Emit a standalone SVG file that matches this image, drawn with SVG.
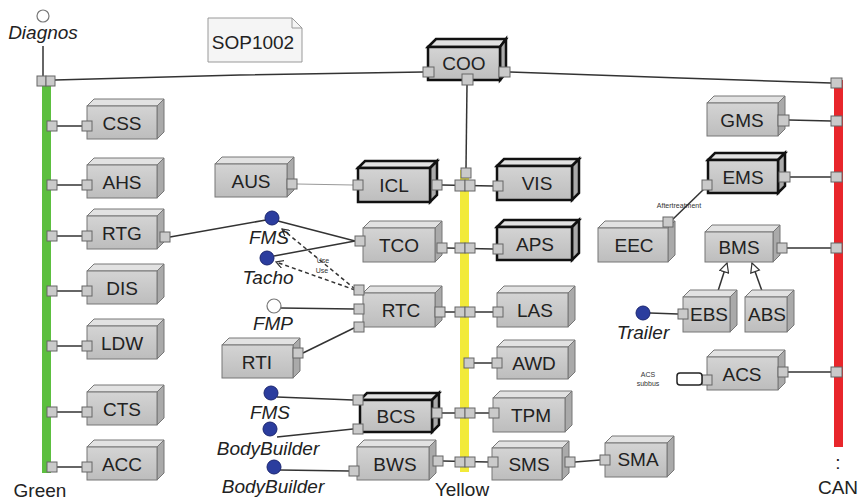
<svg xmlns="http://www.w3.org/2000/svg" width="862" height="501" viewBox="0 0 862 501">
<style>
text{font-family:"Liberation Sans",Arial,sans-serif;fill:#222}
.lbl{font-size:19px;text-anchor:middle}
.it{font-size:19px;font-style:italic;text-anchor:middle}
.tiny{font-size:7px;fill:#333;text-anchor:middle}
.front{fill:url(#gf);stroke:#777;stroke-width:1}
.top{fill:#e2e2e2;stroke:#777;stroke-width:1}
.side{fill:#aaaaaa;stroke:#777;stroke-width:1}
.thick .front,.thick .top,.thick .side{stroke:#111;stroke-width:2.5}
.port{fill:#cacaca;stroke:#666;stroke-width:1}
.ln{stroke:#333;stroke-width:1.5;fill:none}
.lt{stroke:#999;stroke-width:1.2;fill:none}
.dash{stroke:#333;stroke-width:1.5;fill:none;stroke-dasharray:4,3}
.blue{fill:#2b3d9e;stroke:#1a2570;stroke-width:1}
.white{fill:#fff;stroke:#777;stroke-width:1.2}
</style>
<defs>
<linearGradient id="gf" x1="0" y1="0" x2="0" y2="1">
<stop offset="0" stop-color="#d4d4d4"/><stop offset="1" stop-color="#bdbdbd"/>
</linearGradient>
<marker id="open" viewBox="0 0 10 10" refX="9" refY="5" markerWidth="8" markerHeight="8" orient="auto" markerUnits="userSpaceOnUse">
<path d="M0,0 L9,5 L0,10" fill="none" stroke="#333" stroke-width="1.5"/>
</marker>
<marker id="gen" viewBox="0 0 12 12" refX="11" refY="6" markerWidth="11" markerHeight="11" orient="auto" markerUnits="userSpaceOnUse">
<path d="M1,1 L11,6 L1,11 Z" fill="#fff" stroke="#333" stroke-width="1.3"/>
</marker>
</defs>

<!-- buses -->
<g id="buses">
<rect x="42" y="80" width="9" height="393" fill="#5cbf3f"/>
<rect x="460" y="170" width="9" height="302" fill="#f2ea3a"/>
<rect x="834" y="80" width="9" height="367" fill="#e8262b"/>
</g>

<!-- connectors -->
<g id="connectors">
<line class="ln" x1="43" y1="46" x2="43" y2="76"/>
<polyline class="ln" points="55,80 240,75 423,72"/>
<polyline class="ln" points="510,72 680,78 831,83"/>
<line class="ln" x1="467" y1="85" x2="466" y2="168"/>
<!-- green bus -->
<line class="ln" x1="57" y1="126" x2="82" y2="126"/>
<line class="ln" x1="57" y1="185" x2="82" y2="185"/>
<line class="ln" x1="57" y1="236" x2="82" y2="236"/>
<line class="ln" x1="57" y1="291" x2="82" y2="291"/>
<line class="ln" x1="57" y1="346" x2="82" y2="346"/>
<line class="ln" x1="57" y1="412" x2="82" y2="412"/>
<line class="ln" x1="57" y1="467" x2="82" y2="467"/>
<!-- middle -->
<line class="lt" x1="297" y1="184" x2="353" y2="185"/>
<line class="ln" x1="170" y1="237" x2="266" y2="220"/>
<line class="ln" x1="278" y1="221" x2="355" y2="241"/>
<line class="ln" x1="274" y1="256" x2="355" y2="241"/>
<line class="dash" x1="355" y1="289" x2="282" y2="229" marker-end="url(#open)"/>
<line class="dash" x1="355" y1="290" x2="276" y2="262" marker-end="url(#open)"/>
<line class="ln" x1="281" y1="308" x2="354" y2="309"/>
<line class="ln" x1="303" y1="353" x2="354" y2="328"/>
<line class="ln" x1="277" y1="397" x2="353" y2="400"/>
<line class="ln" x1="277" y1="437" x2="353" y2="429"/>
<line class="ln" x1="280" y1="470" x2="349" y2="471"/>
<!-- yellow bus -->
<line class="ln" x1="442" y1="185" x2="493" y2="186"/>
<line class="ln" x1="447" y1="248" x2="493" y2="249"/>
<line class="ln" x1="445" y1="312" x2="493" y2="312"/>
<line class="ln" x1="474" y1="363" x2="492" y2="363"/>
<line class="ln" x1="442" y1="413" x2="489" y2="413"/>
<line class="ln" x1="443" y1="461" x2="488" y2="462"/>
<line class="ln" x1="575" y1="462" x2="600" y2="460"/>
<!-- red bus -->
<line class="ln" x1="789" y1="120" x2="831" y2="121"/>
<line class="ln" x1="790" y1="177" x2="831" y2="177"/>
<line class="ln" x1="787" y1="248" x2="831" y2="248"/>
<line class="ln" x1="788" y1="372" x2="831" y2="372"/>
<!-- right side -->
<line class="ln" x1="704" y1="189" x2="671" y2="221"/>
<line class="ln" x1="718" y1="291" x2="727" y2="263" marker-end="url(#gen)"/>
<line class="ln" x1="762" y1="291" x2="752" y2="263" marker-end="url(#gen)"/>
<line class="ln" x1="650" y1="313" x2="678" y2="314"/>
</g>

<!-- bus ports -->
<g id="busports">
<rect class="port" x="37" y="76" width="9" height="10"/>
<rect class="port" x="46" y="76" width="9" height="10"/>
<rect class="port" x="47" y="121" width="10" height="10"/>
<rect class="port" x="47" y="180" width="10" height="10"/>
<rect class="port" x="47" y="231" width="10" height="10"/>
<rect class="port" x="47" y="286" width="10" height="10"/>
<rect class="port" x="47" y="341" width="10" height="10"/>
<rect class="port" x="47" y="407" width="10" height="10"/>
<rect class="port" x="47" y="462" width="10" height="10"/>
<rect class="port" x="461" y="168" width="10" height="10"/>
<rect class="port" x="455" y="180" width="10" height="11"/>
<rect class="port" x="465" y="180" width="10" height="11"/>
<rect class="port" x="455" y="243" width="10" height="10"/>
<rect class="port" x="465" y="243" width="10" height="10"/>
<rect class="port" x="455" y="307" width="10" height="10"/>
<rect class="port" x="465" y="307" width="10" height="10"/>
<rect class="port" x="464" y="358" width="10" height="10"/>
<rect class="port" x="455" y="408" width="10" height="10"/>
<rect class="port" x="465" y="408" width="10" height="10"/>
<rect class="port" x="455" y="457" width="10" height="10"/>
<rect class="port" x="465" y="457" width="10" height="10"/>
<rect class="port" x="831" y="78" width="11" height="10"/>
<rect class="port" x="831" y="116" width="11" height="10"/>
<rect class="port" x="831" y="172" width="11" height="10"/>
<rect class="port" x="831" y="243" width="11" height="10"/>
<rect class="port" x="831" y="367" width="11" height="10"/>
</g>

<g id="diagnos">
<circle class="white" cx="43" cy="16" r="6"/>
<text class="it" x="43" y="39">Diagnos</text>
</g>

<g id="sop1002">
<path d="M208,18 H292 L302,28 V62 H208 Z" fill="#f5f5f5" stroke="#999" stroke-width="1"/>
<path d="M292,18 V28 H302" fill="none" stroke="#999" stroke-width="1"/>
<text class="lbl" x="253" y="49">SOP1002</text>
</g>

<g id="COO" class="thick">
<polygon class="top" points="428,47 436,39 506,39 500,47"/>
<polygon class="side" points="500,47 506,39 506,73 500,80"/>
<rect class="front" x="428" y="47" width="72" height="33"/>
<text class="lbl" x="464" y="70">COO</text>
<rect class="port" x="423" y="67" width="11" height="10"/>
<rect class="port" x="462" y="74" width="11" height="11"/>
<rect class="port" x="499" y="67" width="11" height="10"/>
</g>

<!-- left column -->
<g id="CSS">
<polygon class="top" points="87,106 94,99 164,99 157,106"/>
<polygon class="side" points="157,106 164,99 164,132 157,139"/>
<rect class="front" x="87" y="106" width="70" height="33"/>
<text class="lbl" x="122" y="129.5">CSS</text>
<rect class="port" x="82" y="121" width="10" height="10"/>
</g>
<g id="AHS">
<polygon class="top" points="87,165 94,158 164,158 157,165"/>
<polygon class="side" points="157,165 164,158 164,191 157,198"/>
<rect class="front" x="87" y="165" width="70" height="33"/>
<text class="lbl" x="122" y="188.5">AHS</text>
<rect class="port" x="82" y="180" width="10" height="10"/>
</g>
<g id="RTG">
<polygon class="top" points="87,216 94,209 164,209 157,216"/>
<polygon class="side" points="157,216 164,209 164,242 157,249"/>
<rect class="front" x="87" y="216" width="70" height="33"/>
<text class="lbl" x="122" y="239.5">RTG</text>
<rect class="port" x="82" y="231" width="10" height="10"/>
<rect class="port" x="160" y="232" width="10" height="10"/>
</g>
<g id="DIS">
<polygon class="top" points="87,271 94,264 164,264 157,271"/>
<polygon class="side" points="157,271 164,264 164,297 157,304"/>
<rect class="front" x="87" y="271" width="70" height="33"/>
<text class="lbl" x="122" y="294.5">DIS</text>
<rect class="port" x="82" y="286" width="10" height="10"/>
</g>
<g id="LDW">
<polygon class="top" points="87,326 94,319 164,319 157,326"/>
<polygon class="side" points="157,326 164,319 164,352 157,359"/>
<rect class="front" x="87" y="326" width="70" height="33"/>
<text class="lbl" x="122" y="349.5">LDW</text>
<rect class="port" x="82" y="341" width="10" height="10"/>
</g>
<g id="CTS">
<polygon class="top" points="87,392 94,385 164,385 157,392"/>
<polygon class="side" points="157,392 164,385 164,418 157,425"/>
<rect class="front" x="87" y="392" width="70" height="33"/>
<text class="lbl" x="122" y="415.5">CTS</text>
<rect class="port" x="82" y="407" width="10" height="10"/>
</g>
<g id="ACC">
<polygon class="top" points="87,447 94,440 164,440 157,447"/>
<polygon class="side" points="157,447 164,440 164,473 157,480"/>
<rect class="front" x="87" y="447" width="70" height="33"/>
<text class="lbl" x="122" y="470.5">ACC</text>
<rect class="port" x="82" y="462" width="10" height="10"/>
</g>

<!-- middle -->
<g id="AUS">
<polygon class="top" points="215,164 222,157 294,157 287,164"/>
<polygon class="side" points="287,164 294,157 294,190 287,197"/>
<rect class="front" x="215" y="164" width="72" height="33"/>
<text class="lbl" x="251" y="187.5">AUS</text>
<rect class="port" x="287" y="179" width="10" height="10"/>
</g>
<g id="ICL" class="thick">
<polygon class="top" points="358,168 365,161 437,161 430,168"/>
<polygon class="side" points="430,168 437,161 437,195 430,202"/>
<rect class="front" x="358" y="168" width="72" height="34"/>
<text class="lbl" x="394" y="192">ICL</text>
<rect class="port" x="353" y="180" width="10" height="10"/>
<rect class="port" x="432" y="180" width="10" height="10"/>
</g>
<g id="TCO">
<polygon class="top" points="363,228 370,221 442,221 435,228"/>
<polygon class="side" points="435,228 442,221 442,255 435,262"/>
<rect class="front" x="363" y="228" width="72" height="34"/>
<text class="lbl" x="399" y="252">TCO</text>
<rect class="port" x="355" y="236" width="10" height="10"/>
<rect class="port" x="437" y="243" width="10" height="10"/>
</g>
<g id="RTC">
<polygon class="top" points="363,293 370,286 442,286 435,293"/>
<polygon class="side" points="435,293 442,286 442,320 435,327"/>
<rect class="front" x="363" y="293" width="72" height="34"/>
<text class="lbl" x="401" y="317">RTC</text>
<rect class="port" x="354" y="285" width="10" height="10"/>
<rect class="port" x="354" y="304" width="10" height="10"/>
<rect class="port" x="354" y="322" width="10" height="10"/>
<rect class="port" x="435" y="307" width="10" height="10"/>
</g>
<g id="RTI">
<polygon class="top" points="222,345 229,338 300,338 293,345"/>
<polygon class="side" points="293,345 300,338 300,371 293,378"/>
<rect class="front" x="222" y="345" width="71" height="33"/>
<text class="lbl" x="257" y="368.5">RTI</text>
<rect class="port" x="293" y="348" width="10" height="10"/>
</g>
<g id="FMS1">
<circle class="blue" cx="272" cy="218" r="7"/>
<text class="it" x="269" y="244">FMS</text>
</g>
<g id="Tacho">
<circle class="blue" cx="267" cy="258" r="7"/>
<text class="it" x="268" y="284">Tacho</text>
</g>
<g id="uselabels">
<text class="tiny" x="323" y="263">Use</text>
<text class="tiny" x="322" y="273">Use</text>
</g>
<g id="FMP">
<circle class="white" cx="274" cy="306" r="7"/>
<text class="it" x="273" y="330">FMP</text>
</g>
<g id="BCS" class="thick">
<polygon class="top" points="360,400 367,393 439,393 432,400"/>
<polygon class="side" points="432,400 439,393 439,425 432,432"/>
<rect class="front" x="360" y="400" width="72" height="32"/>
<text class="lbl" x="396" y="423">BCS</text>
<rect class="port" x="353" y="395" width="10" height="10"/>
<rect class="port" x="353" y="424" width="10" height="10"/>
<rect class="port" x="432" y="408" width="10" height="10"/>
</g>
<g id="BWS">
<polygon class="top" points="357,447 364,440 436,440 429,447"/>
<polygon class="side" points="429,447 436,440 436,473 429,480"/>
<rect class="front" x="357" y="447" width="72" height="33"/>
<text class="lbl" x="395" y="470.5">BWS</text>
<rect class="port" x="349" y="466" width="10" height="10"/>
<rect class="port" x="433" y="456" width="10" height="10"/>
</g>
<g id="FMS2">
<circle class="blue" cx="271" cy="393" r="7"/>
<text class="it" x="270" y="419">FMS</text>
</g>
<g id="BodyBuilder1">
<circle class="blue" cx="270" cy="429" r="7"/>
<text class="it" x="268" y="455">BodyBuilder</text>
</g>
<g id="BodyBuilder2">
<circle class="blue" cx="274" cy="467" r="7"/>
<text class="it" x="273" y="493">BodyBuilder</text>
</g>

<!-- right of yellow -->
<g id="VIS" class="thick">
<polygon class="top" points="497,166 504,159 579,159 572,166"/>
<polygon class="side" points="572,166 579,159 579,193 572,200"/>
<rect class="front" x="497" y="166" width="75" height="34"/>
<text class="lbl" x="537" y="190">VIS</text>
<rect class="port" x="493" y="181" width="10" height="10"/>
</g>
<g id="APS" class="thick">
<polygon class="top" points="497,227 504,220 579,220 572,227"/>
<polygon class="side" points="572,227 579,220 579,253 572,260"/>
<rect class="front" x="497" y="227" width="75" height="33"/>
<text class="lbl" x="535" y="250.5">APS</text>
<rect class="port" x="493" y="244" width="10" height="10"/>
</g>
<g id="LAS">
<polygon class="top" points="497,293 504,286 575,286 568,293"/>
<polygon class="side" points="568,293 575,286 575,320 568,327"/>
<rect class="front" x="497" y="293" width="71" height="34"/>
<text class="lbl" x="535" y="317">LAS</text>
<rect class="port" x="493" y="307" width="10" height="10"/>
</g>
<g id="AWD">
<polygon class="top" points="497,347 504,340 575,340 568,347"/>
<polygon class="side" points="568,347 575,340 575,372 568,379"/>
<rect class="front" x="497" y="347" width="71" height="32"/>
<text class="lbl" x="534" y="370">AWD</text>
<rect class="port" x="492" y="358" width="10" height="10"/>
</g>
<g id="TPM">
<polygon class="top" points="493,398 500,391 572,391 565,398"/>
<polygon class="side" points="565,398 572,391 572,425 565,432"/>
<rect class="front" x="493" y="398" width="72" height="34"/>
<text class="lbl" x="531" y="422">TPM</text>
<rect class="port" x="489" y="408" width="10" height="10"/>
</g>
<g id="SMS">
<polygon class="top" points="492,448 499,441 569,441 562,448"/>
<polygon class="side" points="562,448 569,441 569,473 562,480"/>
<rect class="front" x="492" y="448" width="70" height="32"/>
<text class="lbl" x="529" y="471">SMS</text>
<rect class="port" x="488" y="457" width="10" height="10"/>
<rect class="port" x="565" y="457" width="10" height="10"/>
</g>
<g id="SMA">
<polygon class="top" points="605,443 612,436 674,436 667,443"/>
<polygon class="side" points="667,443 674,436 674,470 667,477"/>
<rect class="front" x="605" y="443" width="62" height="34"/>
<text class="lbl" x="638" y="466">SMA</text>
<rect class="port" x="600" y="455" width="10" height="10"/>
</g>

<!-- right -->
<g id="GMS">
<polygon class="top" points="707,103 714,96 785,96 778,103"/>
<polygon class="side" points="778,103 785,96 785,129 778,136"/>
<rect class="front" x="707" y="103" width="71" height="33"/>
<text class="lbl" x="742" y="126.5">GMS</text>
<rect class="port" x="778" y="115" width="11" height="11"/>
</g>
<g id="EMS" class="thick">
<polygon class="top" points="708,160 715,153 785,153 778,160"/>
<polygon class="side" points="778,160 785,153 785,186 778,193"/>
<rect class="front" x="708" y="160" width="70" height="33"/>
<text class="lbl" x="743" y="183.5">EMS</text>
<rect class="port" x="779" y="172" width="11" height="10"/>
<rect class="port" x="702" y="180" width="10" height="10"/>
</g>
<g id="aftertreatment">
<text class="tiny" x="679" y="208" font-size="6">Aftertreatment</text>
</g>
<g id="EEC">
<polygon class="top" points="598,228 605,221 675,221 668,228"/>
<polygon class="side" points="668,228 675,221 675,255 668,262"/>
<rect class="front" x="598" y="228" width="70" height="34"/>
<text class="lbl" x="634" y="252">EEC</text>
<rect class="port" x="663" y="217" width="10" height="10"/>
</g>
<g id="BMS">
<polygon class="top" points="705,232 712,225 780,225 773,232"/>
<polygon class="side" points="773,232 780,225 780,255 773,262"/>
<rect class="front" x="705" y="232" width="68" height="30"/>
<text class="lbl" x="739" y="254">BMS</text>
<rect class="port" x="777" y="243" width="10" height="10"/>
</g>
<g id="EBS">
<polygon class="top" points="683,297 690,290 737,290 730,297"/>
<polygon class="side" points="730,297 737,290 737,325 730,332"/>
<rect class="front" x="683" y="297" width="47" height="35"/>
<text class="lbl" x="709" y="321">EBS</text>
<rect class="port" x="678" y="309" width="10" height="10"/>
</g>
<g id="ABS">
<polygon class="top" points="745,297 752,290 794,290 787,297"/>
<polygon class="side" points="787,297 794,290 794,325 787,332"/>
<rect class="front" x="745" y="297" width="42" height="35"/>
<text class="lbl" x="767" y="321">ABS</text>
</g>
<g id="Trailer">
<circle class="blue" cx="643" cy="313" r="7"/>
<text class="it" x="643" y="339">Trailer</text>
</g>
<g id="ACS">
<polygon class="top" points="707,357 714,350 785,350 778,357"/>
<polygon class="side" points="778,357 785,350 785,383 778,390"/>
<rect class="front" x="707" y="357" width="71" height="33"/>
<text class="lbl" x="742" y="380.5">ACS</text>
<rect class="port" x="702" y="375" width="10" height="10"/>
<rect class="port" x="778" y="367" width="10" height="10"/>
</g>
<g id="ACSsubbus">
<rect x="677" y="373" width="25" height="12" rx="3" fill="#fff" stroke="#222" stroke-width="1.5"/>
<text class="tiny" x="648" y="377">ACS</text>
<text class="tiny" x="648" y="386">subbus</text>
</g>

<g id="buslabels">
<text class="lbl" x="40" y="497">Green</text>
<text class="lbl" x="462" y="496">Yellow</text>
<text class="lbl" x="838" y="469">:</text>
<text class="lbl" x="838" y="494">CAN</text>
</g>
</svg>
